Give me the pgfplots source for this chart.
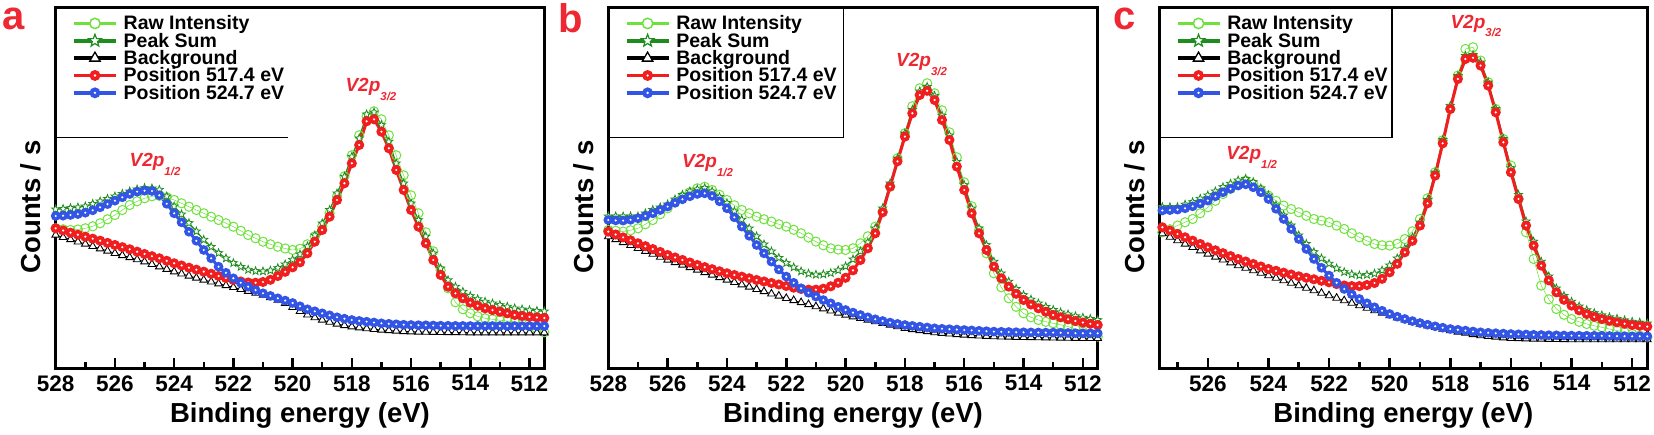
\documentclass[border=0pt]{standalone}
\usepackage{fontspec}
\setmainfont{Liberation Sans}
\usepackage{pgfplots}
\usepackage{pgfplotstable}
\pgfplotsset{compat=1.18}
\definecolor{lgreen}{RGB}{110,225,60}
\definecolor{dgreen}{RGB}{30,140,30}
\definecolor{myred}{RGB}{240,30,30}
\definecolor{myblue}{RGB}{50,85,230}
\definecolor{labred}{RGB}{238,40,50}
\newdimen\starr
\pgfdeclareplotmark{ball}{%
  \pgfpathcircle{\pgfpointorigin}{\pgfplotmarksize}%
  \pgfusepathqfill
  \begin{pgfscope}%
  \pgfsetfillcolor{white}%
  \pgfpathcircle{\pgfpointorigin}{0.24\pgfplotmarksize}%
  \pgfusepathqfill
  \end{pgfscope}%
}
\pgfdeclareplotmark{ostar}{%
  \starr=0.42\pgfplotmarksize
  \pgfpathmoveto{\pgfqpointpolar{90}{\pgfplotmarksize}}%
  \pgfpathlineto{\pgfqpointpolar{126}{\starr}}%
  \pgfpathlineto{\pgfqpointpolar{162}{\pgfplotmarksize}}%
  \pgfpathlineto{\pgfqpointpolar{198}{\starr}}%
  \pgfpathlineto{\pgfqpointpolar{234}{\pgfplotmarksize}}%
  \pgfpathlineto{\pgfqpointpolar{270}{\starr}}%
  \pgfpathlineto{\pgfqpointpolar{306}{\pgfplotmarksize}}%
  \pgfpathlineto{\pgfqpointpolar{342}{\starr}}%
  \pgfpathlineto{\pgfqpointpolar{18}{\pgfplotmarksize}}%
  \pgfpathlineto{\pgfqpointpolar{54}{\starr}}%
  \pgfpathclose
  \pgfusepathqfillstroke
}
\newcommand\ls{\rule[-4.5pt]{0pt}{19pt}}
\newcommand\vlab[1]{\textcolor{labred}{\bfseries\itshape\fontsize{19}{19}\selectfont V2p\raisebox{-8.3pt}{\fontsize{11.5}{11.5}\selectfont #1}}}

% columns: E raw sum bg red blue
\pgfplotstableread{
E raw sum bg red blue
528.00 140.0 159.0 133.3 140.0 152.3
527.75 139.0 159.5 131.0 137.8 152.6
527.50 138.3 160.3 128.8 135.6 153.3
527.25 138.8 161.0 126.5 133.6 154.2
527.00 140.0 162.0 124.3 131.6 155.6
526.75 142.0 164.5 122.0 129.6 158.0
526.50 145.0 167.0 119.6 127.6 161.0
526.25 149.0 169.5 117.3 125.4 164.2
526.00 153.3 172.0 115.0 123.3 167.6
525.75 158.3 174.5 112.9 121.1 171.0
525.50 163.3 177.0 110.8 119.0 174.3
525.25 167.0 179.0 108.7 116.6 176.6
525.00 170.0 180.3 106.6 114.3 177.6
524.75 172.0 180.0 104.0 112.1 177.3
524.50 172.5 178.6 101.6 110.0 173.0
524.25 171.0 172.0 99.1 107.5 164.5
524.00 168.3 162.0 96.6 105.0 155.0
523.75 165.0 154.0 94.5 102.8 146.0
523.50 161.6 145.3 92.4 100.6 136.6
523.25 158.3 137.0 90.3 98.6 127.5
523.00 155.0 128.6 88.3 96.6 118.3
522.75 151.6 121.5 86.5 94.5 110.0
522.50 148.3 115.3 84.6 92.3 101.6
522.25 145.0 110.0 82.8 90.3 95.5
522.00 141.6 105.3 81.0 88.3 90.0
521.75 137.5 101.5 79.0 86.8 85.5
521.50 133.3 98.6 77.1 85.8 81.6
521.25 130.0 97.3 75.2 85.5 78.2
521.00 126.6 97.0 73.3 86.3 75.0
520.75 124.0 97.8 70.8 88.5 72.4
520.50 121.6 100.3 68.3 92.3 70.0
520.25 119.8 104.0 65.0 96.5 67.7
520.00 118.3 108.6 61.0 101.0 65.3
519.75 119.5 114.0 57.0 106.0 62.0
519.50 124.0 122.0 53.5 115.0 59.0
519.25 132.0 133.0 50.7 126.6 57.0
519.00 142.0 145.0 48.3 138.3 55.0
518.75 155.0 158.4 46.2 151.6 53.0
518.50 172.0 175.0 44.4 168.3 51.0
518.25 192.0 191.7 42.9 185.0 49.6
518.00 213.0 211.7 41.6 205.0 48.3
517.75 233.0 230.0 40.6 223.3 47.4
517.50 252.0 254.0 39.7 247.0 46.6
517.25 257.0 256.0 39.0 249.0 45.8
517.00 249.0 243.3 38.3 236.6 45.0
516.75 233.0 226.7 37.8 220.0 44.5
516.50 213.0 205.0 37.3 198.3 44.0
516.25 193.0 185.0 36.9 178.3 43.6
516.00 173.0 165.0 36.6 158.3 43.3
515.75 155.0 148.3 36.4 141.6 43.1
515.50 136.0 131.8 36.2 125.0 43.0
515.25 117.0 115.0 36.1 108.3 42.8
515.00 98.0 100.0 36.0 93.3 42.6
514.75 80.0 88.2 35.9 81.6 42.5
514.50 66.0 81.6 35.8 75.0 42.4
514.25 59.0 76.6 35.7 70.0 42.4
514.00 55.0 72.3 35.6 65.6 42.3
513.75 52.0 69.2 35.6 62.5 42.3
513.50 50.0 66.7 35.6 60.0 42.3
513.25 49.0 64.9 35.6 58.2 42.3
513.00 48.0 63.3 35.6 56.6 42.3
512.75 47.3 61.7 35.6 55.0 42.2
512.50 46.6 60.0 35.6 53.3 42.2
512.25 44.5 59.0 35.6 52.3 42.2
512.00 42.0 58.2 35.6 51.5 42.2
511.75 39.0 57.5 35.6 50.8 42.2
511.50 36.0 57.0 35.6 50.3 42.2
}\tabA

\pgfplotstableread{
E raw sum bg red blue
528.00 138.3 152.0 131.7 136.7 148.3
527.75 137.5 152.0 128.8 133.8 147.9
527.50 136.7 152.0 125.9 130.9 147.7
527.25 138.0 152.0 123.0 128.0 148.5
527.00 140.0 152.0 120.0 125.0 150.0
526.75 144.0 155.0 117.1 122.1 152.3
526.50 148.3 158.5 114.2 119.2 155.0
526.25 154.0 161.0 111.2 116.3 158.3
526.00 160.0 164.0 108.3 113.3 161.7
525.75 166.0 169.0 105.8 110.8 165.5
525.50 171.7 173.5 103.3 108.3 169.0
525.25 176.0 177.0 100.8 105.8 172.0
525.00 180.0 179.0 98.3 103.3 174.3
524.75 181.5 180.3 95.8 101.2 175.0
524.50 178.3 177.0 93.3 99.1 172.3
524.25 173.5 171.5 90.8 97.0 167.0
524.00 168.3 165.3 88.3 95.0 160.0
523.75 163.0 157.0 86.0 93.3 151.0
523.50 158.3 148.7 83.6 91.6 141.7
523.25 155.0 140.0 81.3 90.0 132.5
523.00 151.7 132.0 79.0 88.3 123.3
522.75 149.0 124.0 76.8 86.8 115.0
522.50 146.7 117.0 74.5 85.3 106.7
522.25 144.0 110.5 72.3 83.8 98.8
522.00 141.7 105.3 70.0 82.3 91.7
521.75 138.5 101.0 67.9 80.6 85.5
521.50 135.0 97.0 65.8 79.3 80.0
521.25 130.8 94.7 63.8 78.6 75.5
521.00 126.7 93.7 61.7 78.6 71.7
520.75 123.0 94.0 59.6 79.6 68.2
520.50 120.0 95.3 57.5 82.0 65.0
520.25 118.7 98.0 55.4 85.5 61.5
520.00 118.3 102.0 53.3 90.5 58.3
519.75 120.0 109.0 51.6 98.0 55.7
519.50 125.0 117.0 50.0 108.3 53.3
519.25 132.0 126.0 48.3 120.0 51.0
519.00 141.7 140.0 46.7 135.0 49.0
518.75 157.0 160.0 45.0 156.0 47.3
518.50 181.7 185.0 43.3 181.7 45.7
518.25 210.0 210.0 41.7 207.0 44.4
518.00 235.0 235.0 40.0 231.7 43.3
517.75 262.0 258.5 38.9 255.0 42.4
517.50 280.0 277.0 37.8 273.3 41.6
517.25 285.0 281.5 36.8 277.5 40.8
517.00 275.0 272.6 35.7 268.3 40.0
516.75 258.0 252.7 35.1 248.3 39.5
516.50 236.0 233.0 34.5 228.3 39.1
516.25 211.0 206.5 33.9 201.7 38.7
516.00 186.0 183.3 33.3 178.3 38.3
515.75 162.0 160.0 32.9 155.0 37.9
515.50 138.0 140.0 32.5 135.0 37.5
515.25 115.0 123.3 32.1 118.3 37.1
515.00 95.0 106.7 31.7 101.7 36.7
514.75 81.0 95.0 31.5 90.0 36.5
514.50 70.0 86.7 31.3 81.7 36.3
514.25 61.5 79.5 31.1 74.5 36.1
514.00 55.0 73.3 31.0 68.3 36.0
513.75 51.0 68.8 30.9 63.8 35.9
513.50 48.3 65.0 30.7 60.0 35.8
513.25 46.5 61.5 30.6 56.5 35.7
513.00 45.0 58.5 30.5 53.3 35.7
512.75 43.5 56.0 30.4 51.0 35.5
512.50 41.7 54.0 30.2 49.0 35.3
512.25 39.0 52.2 30.1 47.3 35.1
512.00 36.7 50.7 30.0 45.7 35.0
511.75 34.0 49.5 30.0 44.5 35.0
511.50 31.7 48.3 30.0 43.3 35.0
}\tabB

\pgfplotstableread{
E raw sum bg red blue
527.75 140.0 161.3 138.0 145.0 157.5
527.50 136.0 161.3 134.7 141.0 157.8
527.25 139.0 161.3 131.2 137.7 158.2
527.00 142.7 161.3 127.7 134.3 158.7
526.75 146.0 163.8 124.3 131.0 160.0
526.50 149.3 166.3 121.0 127.6 162.0
526.25 155.0 169.6 117.6 124.3 164.7
526.00 161.0 173.0 114.3 121.0 167.7
525.75 167.5 177.0 111.4 118.0 172.0
525.50 174.3 181.3 108.5 115.1 176.0
525.25 179.5 184.7 105.6 112.2 179.5
525.00 184.3 188.0 102.7 109.3 182.7
524.75 187.7 189.5 100.2 106.8 184.0
524.50 184.3 186.3 97.7 104.3 181.0
524.25 178.5 180.0 95.2 101.8 176.0
524.00 172.7 173.0 92.7 99.3 169.3
523.75 167.5 163.0 90.2 97.5 159.5
523.50 162.7 153.0 87.7 95.6 149.3
523.25 159.3 143.0 85.2 93.8 139.3
523.00 156.0 133.0 82.7 92.0 129.3
522.75 152.5 124.5 80.2 90.5 119.3
522.50 149.3 116.3 77.7 89.0 109.3
522.25 147.7 110.0 75.2 87.5 100.5
522.00 146.0 104.7 72.7 86.0 92.7
521.75 142.7 100.0 70.2 84.2 85.5
521.50 139.3 96.3 67.7 82.8 79.3
521.25 135.0 94.0 65.2 82.2 74.0
521.00 131.0 93.0 62.7 82.2 69.3
520.75 127.5 93.5 60.2 83.3 65.0
520.50 124.3 94.7 57.7 85.3 61.0
520.25 123.0 98.0 55.2 89.5 57.5
520.00 122.7 103.0 52.7 96.0 54.3
519.75 124.5 110.0 50.6 104.5 51.6
519.50 129.3 119.7 48.5 116.0 49.3
519.25 137.0 131.0 46.4 127.5 47.2
519.00 149.3 146.0 44.3 142.7 45.3
518.75 170.0 168.5 42.6 165.0 43.6
518.50 196.0 196.0 41.0 192.7 42.0
518.25 228.0 228.5 39.3 225.0 40.6
518.00 259.3 262.6 37.7 259.3 39.3
517.75 292.7 292.5 36.4 289.3 38.5
517.50 319.3 312.5 35.2 309.3 37.7
517.25 321.0 313.5 33.9 310.5 36.8
517.00 307.7 306.0 32.7 302.7 36.0
516.75 286.0 286.0 32.0 282.7 35.5
516.50 259.3 259.5 31.3 256.0 35.1
516.25 229.3 229.5 30.6 226.0 34.7
516.00 202.7 200.3 30.0 196.0 34.3
515.75 169.3 173.5 29.8 169.3 34.0
515.50 136.0 146.9 29.6 142.7 33.8
515.25 109.3 126.8 29.4 122.7 33.5
515.00 82.7 106.7 29.3 102.7 33.3
514.75 69.0 92.0 29.1 88.0 33.1
514.50 59.3 80.0 29.0 76.0 33.0
514.25 53.5 72.5 28.8 68.5 32.8
514.00 49.3 66.7 28.7 62.7 32.7
513.75 46.5 62.0 28.7 58.0 32.6
513.50 44.3 58.2 28.7 54.3 32.5
513.25 42.5 55.3 28.7 51.5 32.5
513.00 41.0 53.1 28.7 49.3 32.5
512.75 39.3 51.2 28.7 47.5 32.3
512.50 37.7 49.6 28.7 46.0 32.2
512.25 36.0 48.1 28.7 44.6 32.1
512.00 34.3 46.6 28.7 43.3 32.0
511.75 32.7 45.8 28.7 42.5 32.0
511.50 31.0 45.0 28.7 41.7 32.0
}\tabC

\pgfplotsset{
  xpsaxis/.style={
    scale only axis, height=361pt, x dir=reverse, xmin=511.5,
    ymin=0, ymax=361, ytick=\empty,
    axis line style={line width=3.2pt},
    xtick={512,514,...,528}, minor x tick num=1, xtick pos=left, tick align=inside,
    major tick length=10pt, minor tick length=6pt,
    every tick/.append style={black, line width=2.5pt},
    /pgf/number format/assume math mode=true,
    /pgf/number format/1000 sep={},
    ticklabel style={font=\bfseries\fontsize{22.5}{22.5}\selectfont},
    xticklabel style={yshift=-3.5pt},
    xlabel={Binding energy (eV)}, ylabel={Counts / s},
    xlabel style={font=\bfseries\fontsize{27.5}{27.5}\selectfont, at={(axis description cs:0.5,-0.1294)}, anchor=center},
    ylabel style={font=\bfseries\fontsize{27.5}{27.5}\selectfont, at={(axis description cs:-0.0506,0.447)}, anchor=center},
    legend style={draw=none, fill=none, at={(axis description cs:0.0334,0.978)}, anchor=north west,
      inner sep=0pt, row sep=1.35pt, font=\bfseries\fontsize{19.5}{19.5}\selectfont, nodes={inner sep=0pt}},
    legend cell align=left,
    legend image code/.code={\draw[mark repeat=2,mark phase=2,##1] plot coordinates {(0pt,0pt) (21pt,0pt) (42pt,0pt)}; \path (48pt,0pt);},
  }
}

\newcommand{\drawpanel}[1]{%
  \addlegendimage{lgreen, line width=3.5pt, mark=*, mark size=5.2pt, mark options={fill=white, draw=lgreen, line width=1.5pt}}
  \addlegendimage{dgreen, line width=3.5pt, mark=ostar, mark size=6.5pt, mark options={fill=white, draw=dgreen, line width=1.2pt}}
  \addlegendimage{black, line width=3.5pt, mark=triangle*, mark size=6pt, mark options={fill=white, draw=black, line width=1.3pt}}
  \addlegendimage{myred, line width=3.5pt, mark=ball, mark size=5.5pt}
  \addlegendimage{myblue, line width=3.5pt, mark=ball, mark size=5.5pt}
  \addplot[forget plot, lgreen, line width=0.5pt, mark=o, mark size=4.6pt, mark options={line width=1pt}] table[x=E,y=raw]{#1};
  \addplot[forget plot, dgreen, line width=1.2pt, mark=ostar, mark size=4.2pt, mark options={fill=white, line width=0.8pt}] table[x=E,y=sum]{#1};
  \addplot[forget plot, black, line width=0.8pt, mark=triangle*, mark size=4.4pt, mark options={fill=white, line width=0.9pt}] table[x=E,y=bg]{#1};
  \addplot[forget plot, myred, line width=3pt, mark=ball, mark size=5.1pt] table[x=E,y=red]{#1};
  \addplot[forget plot, myblue, line width=3pt, mark=ball, mark size=4.9pt] table[x=E,y=blue]{#1};
  \legend{\ls Raw Intensity, \ls Peak Sum, \ls Background, \ls Position 517.4 eV, \ls Position 524.7 eV}
}

\begin{document}
\begin{tikzpicture}
\useasboundingbox (0,0) rectangle (1654pt,435pt);
\begin{axis}[xpsaxis, name=pa, at={(55.7pt,66.7pt)}, anchor=south west, width=488.6pt, xmax=528]
\drawpanel{\tabA}
\node[anchor=base west] at (axis description cs:0.586,0.766) {\vlab{3/2}};
\node[anchor=base west] at (axis description cs:0.144,0.558) {\vlab{1/2}};
\draw[line width=1.3pt] (axis description cs:0,0.64) -- (axis description cs:0.4754,0.64);
\end{axis}
\begin{axis}[xpsaxis, name=pb, at={(608.3pt,66.7pt)}, anchor=south west, width=489.4pt, xmax=528]
\drawpanel{\tabB}
\node[anchor=base west] at (axis description cs:0.581,0.835) {\vlab{3/2}};
\node[anchor=base west] at (axis description cs:0.1437,0.555) {\vlab{1/2}};
\draw[line width=1.3pt] (axis description cs:0,0.64) -- (axis description cs:0.48,0.64) -- (axis description cs:0.48,1);
\end{axis}
\begin{axis}[xpsaxis, name=pc, at={(1159.3pt,66.7pt)}, anchor=south west, width=488pt, xmax=527.6]
\drawpanel{\tabC}
\node[anchor=base west] at (axis description cs:0.5895,0.942) {\vlab{3/2}};
\node[anchor=base west] at (axis description cs:0.130,0.577) {\vlab{1/2}};
\draw[line width=1.3pt] (axis description cs:0,0.64) -- (axis description cs:0.477,0.64) -- (axis description cs:0.477,1);
\end{axis}
\node[font=\bfseries\fontsize{40}{40}\selectfont, text=labred] at ([xshift=-41.7pt,yshift=-11.7pt]pa.north west) {a};
\node[font=\bfseries\fontsize{40}{40}\selectfont, text=labred] at ([xshift=-37.8pt,yshift=-11pt]pb.north west) {b};
\node[font=\bfseries\fontsize{40}{40}\selectfont, text=labred] at ([xshift=-34.8pt,yshift=-11.7pt]pc.north west) {c};
\end{tikzpicture}
\end{document}
